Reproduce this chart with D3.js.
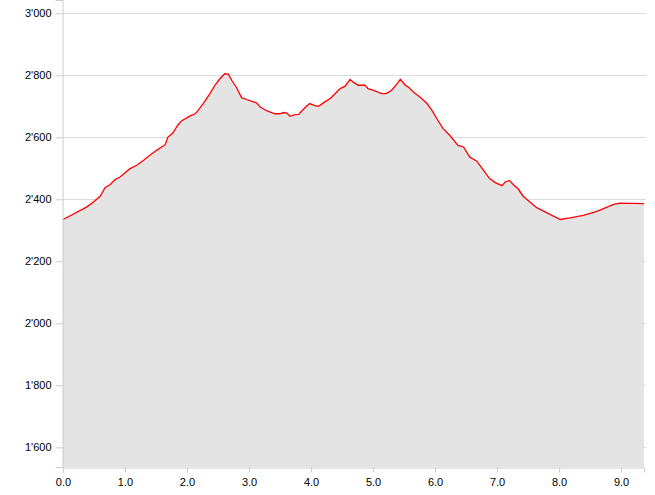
<!DOCTYPE html>
<html><head><meta charset="utf-8">
<script src="https://cdn.jsdelivr.net/npm/d3@7"></script>
<style>body{margin:0;background:#fff}svg{display:block}</style>
</head><body>
<svg id="c" width="655" height="495"></svg>
<script>
const distanceKm = [0.00,0.38,0.49,0.60,0.68,0.76,0.84,0.92,1.08,1.19,1.30,1.40,1.51,1.65,1.69,1.77,1.85,1.91,2.05,2.13,2.16,2.26,2.37,2.45,2.53,2.61,2.67,2.72,2.80,2.88,2.96,3.12,3.18,3.29,3.42,3.50,3.55,3.61,3.66,3.74,3.80,3.85,3.93,3.98,4.06,4.12,4.20,4.31,4.36,4.47,4.55,4.63,4.68,4.76,4.87,4.92,5.00,5.14,5.21,5.30,5.38,5.44,5.52,5.57,5.65,5.76,5.87,5.95,6.03,6.13,6.24,6.37,6.46,6.56,6.67,6.78,6.88,6.97,7.08,7.13,7.20,7.26,7.34,7.42,7.53,7.64,7.75,8.02,8.18,8.39,8.61,8.88,8.98,9.37];
const elevationM = [2335,2375,2391,2410,2438,2447,2464,2472,2499,2510,2526,2542,2558,2577,2600,2614,2639,2653,2669,2676,2682,2709,2741,2768,2789,2805,2803,2784,2760,2728,2722,2711,2698,2685,2676,2676,2680,2678,2668,2673,2674,2685,2701,2709,2702,2700,2711,2725,2735,2757,2765,2787,2778,2768,2768,2757,2752,2741,2741,2752,2771,2787,2768,2762,2746,2729,2709,2687,2660,2628,2606,2574,2569,2536,2524,2494,2467,2454,2444,2456,2461,2448,2434,2410,2391,2373,2362,2335,2340,2348,2361,2384,2388,2386];
const yTicks = [1600,1800,2000,2200,2400,2600,2800,3000];
const xTicks = [0,1,2,3,4,5,6,7,8,9];

const data = distanceKm.map((d,i)=>({x:d,y:elevationM[i]}));
const svg = d3.select("#c");
const mLeft = 63, mRight = 644, mTop = 0, mBottom = 467;
const x = d3.scaleLinear().domain([0, 9.37]).range([mLeft, mRight]);
const y = d3.scaleLinear().domain([1536.5, 3043]).range([mBottom, mTop]);
const fmt = v => d3.format(",")(v).replace(/,/g, "'");

// grid
svg.append("g").selectAll("line").data(yTicks).join("line")
  .attr("x1", mLeft).attr("x2", mRight + 2)
  .attr("y1", d => Math.round(y(d)) + 0.5).attr("y2", d => Math.round(y(d)) + 0.5)
  .attr("stroke", "#dcdcdc").attr("stroke-width", 1);

// area
svg.append("path").datum(data)
  .attr("d", d3.area().x(d=>x(d.x)).y0(mBottom).y1(d=>y(d.y)))
  .attr("fill", "#e4e4e4");
svg.append("path").datum(data)
  .attr("d", d3.line().x(d=>x(d.x)).y(d=>y(d.y)))
  .attr("fill", "none").attr("stroke", "#ff0000").attr("stroke-width", 1.3);

// axes
const yAxis = svg.append("g").attr("transform", `translate(${mLeft - 0.5},0)`)
  .call(d3.axisLeft(y).tickValues(yTicks).tickFormat(fmt).tickSize(7).tickPadding(4));
const xAxis = svg.append("g").attr("transform", `translate(0,${mBottom + 0.5})`)
  .call(d3.axisBottom(x).tickValues(xTicks).tickFormat(d3.format(".1f")).tickSize(5).tickPadding(6));
[yAxis, xAxis].forEach(a => {
  a.selectAll("path,line").attr("stroke", "#cccccc");
  a.selectAll("text").attr("fill", "#000").attr("font-family", "Liberation Sans, Arial, sans-serif").attr("font-size", 11);
});
</script>
</body></html>
